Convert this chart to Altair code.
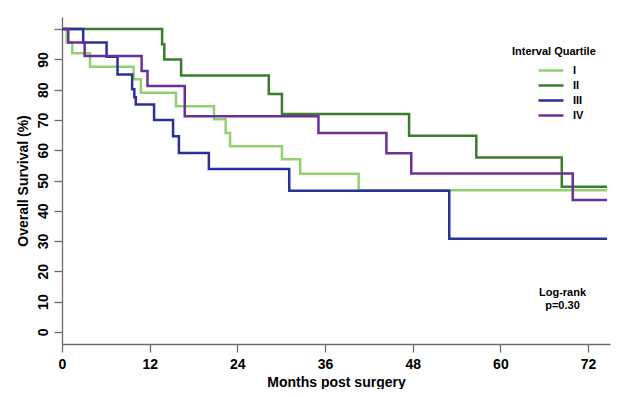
import altair as alt
import pandas as pd

groups = ["I", "II", "III", "IV"]
colors = ["#93d16f", "#3b7d2c", "#2b2f98", "#6a2f98"]

# Kaplan-Meier step points (months, survival %)
t_I = [0, 0.64, 1.41, 3.83, 9.8, 10.8, 15.6, 20.8, 22.4, 23.0, 30.1, 32.6, 40.6, 74.6]
s_I = [100, 95.6, 92.0, 87.6, 83.4, 79.0, 74.5, 70.2, 65.7, 61.3, 57.0, 52.2, 46.8, 46.8]
t_II = [0, 13.7, 14.0, 16.3, 28.3, 30.1, 47.5, 56.7, 68.4, 74.6]
s_II = [100, 95.0, 90.0, 84.7, 78.6, 72.0, 64.8, 57.6, 47.9, 47.9]
t_III = [0, 2.9, 6.1, 7.6, 9.6, 9.9, 10.1, 12.6, 15.2, 16.0, 20.1, 31.1, 53.0, 74.6]
s_III = [100, 95.6, 90.9, 85.0, 80.1, 77.5, 75.1, 70.0, 64.6, 59.1, 53.8, 46.6, 30.8, 30.8]
t_IV = [0, 0.86, 3.1, 10.9, 11.7, 16.8, 35.1, 44.4, 47.8, 69.9, 74.6]
s_IV = [100, 95.6, 91.1, 86.2, 81.2, 71.2, 65.7, 59.0, 52.3, 43.6, 43.6]

x_ticks = [0, 12, 24, 36, 48, 60, 72]
y_ticks = [0, 10, 20, 30, 40, 50, 60, 70, 80, 90, 100]

note_text = ["Log-rank\np=0.30"]
note_month = [68.5]
note_surv = [12.8]

rows = []
for g, ts, ss in [("I", t_I, s_I), ("II", t_II, s_II), ("III", t_III, s_III), ("IV", t_IV, s_IV)]:
    for t, s in zip(ts, ss):
        rows.append({"group": g, "month": t, "surv": s})
df = pd.DataFrame(rows)
note_df = pd.DataFrame({"month": note_month, "surv": note_surv, "text": note_text})

FONT = "Liberation Sans"

x_scale = alt.Scale(domain=[0, 75], nice=False, zero=False)
y_scale = alt.Scale(domain=[-4, 104], nice=False, zero=False)

x_enc = alt.X(
    "month:Q",
    scale=x_scale,
    axis=alt.Axis(values=x_ticks, title="Months post surgery", grid=False,
                  tickSize=8, labelPadding=5, titlePadding=4,
                  labelFlush=False, labelOverlap=False,
                  labelFontSize=14, titleFontSize=14),
)
y_enc = alt.Y(
    "surv:Q",
    scale=y_scale,
    axis=alt.Axis(values=y_ticks, title="Overall Survival (%)", grid=False,
                  labelExpr="datum.value == 100 ? '' : datum.label",
                  labelAngle=270, labelAlign="center", labelBaseline="bottom",
                  labelFlush=False, labelOverlap=False, labelSeparation=0,
                  tickSize=8, labelPadding=4, titlePadding=6,
                  labelFontSize=14, titleFontSize=14),
)

lines = alt.Chart(df).mark_line(interpolate="step-after", strokeWidth=2.5).encode(
    x=x_enc,
    y=y_enc,
    color=alt.Color(
        "group:N",
        scale=alt.Scale(domain=groups, range=colors),
        legend=alt.Legend(
            title="Interval Quartile", orient="none", legendX=450, legendY=29,
            symbolType="stroke", symbolSize=625, symbolStrokeWidth=2.5,
            symbolOffset=25, labelFontSize=11, titleFontSize=11,
            labelFontWeight="bold", titleFontWeight="bold",
            clipHeight=15, rowPadding=0, titlePadding=6, labelOffset=8,
        ),
    ),
)

note = alt.Chart(note_df).mark_text(
    lineBreak="\n", align="center", baseline="middle", fontSize=11,
    fontWeight="bold", font=FONT, lineHeight=13, color="black"
).encode(x=x_enc, y=y_enc, text="text:N")

chart = alt.layer(lines, note).properties(
    width=548, height=327,
    autosize=alt.AutoSizeParams(type="none"),
    padding={"left": 54, "top": 9, "right": 22, "bottom": 45},
).configure_view(stroke=None).configure_axis(
    labelFont=FONT, titleFont=FONT, labelFontWeight="bold", titleFontWeight="bold",
    labelColor="black", titleColor="black", domainColor="#6b6b6b", tickColor="#6b6b6b",
    domainWidth=1.3, tickWidth=1.3,
).configure_legend(labelFont=FONT, titleFont=FONT, labelColor="black", titleColor="black")

chart.save("out.html", embed_options={"renderer": "svg", "actions": False})
